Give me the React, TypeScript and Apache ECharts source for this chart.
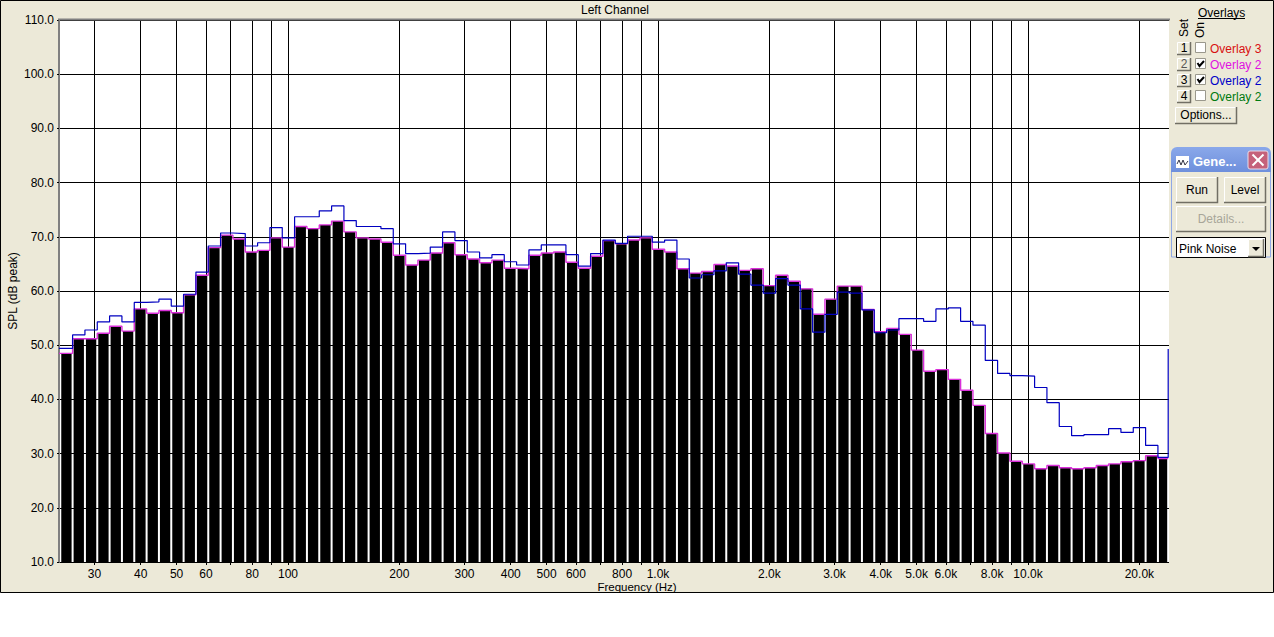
import React, { useEffect, useRef } from "react";
import * as echarts from "echarts";

const FONT = '"Liberation Sans", Arial, sans-serif';
const PANEL = "#ECE9D8";

const minFreq = 24.05;
const maxFreq = 24050;
const firstBandEdge = 24.24;
const lastBandEdge = 23930;
const bandsPerDecade = 30;

const gridTicks = [30, 40, 50, 60, 70, 80, 90, 100, 200, 300, 400, 500, 600, 700, 800, 900, 1000, 2000, 3000, 4000, 5000, 6000, 7000, 8000, 9000, 10000, 20000];
const labelledTicks = [30, 40, 50, 60, 80, 100, 200, 300, 400, 500, 600, 800, 1000, 2000, 3000, 4000, 5000, 6000, 8000, 10000, 20000];

const barValues = [
  48.5, 51.2, 51.2, 52.2, 53.5, 52.6, 56.7, 55.9, 56.4, 56.0,
  59.3, 62.9, 68.0, 70.3, 69.6, 67.2, 67.5, 69.8, 68.1, 71.9,
  71.5, 72.2, 72.9, 70.9, 69.8, 69.6, 69.0, 66.6, 64.8, 65.7,
  67.0, 68.9, 66.7, 65.9, 65.2, 65.7, 64.2, 64.1, 66.6, 67.0,
  67.2, 65.3, 64.2, 66.4, 69.3, 68.7, 69.4, 69.8, 67.7, 67.2,
  64.1, 63.3, 63.6, 64.9, 64.6, 63.8, 64.1, 61.0, 62.9, 61.8,
  60.4, 55.7, 58.5, 60.9, 60.9, 56.6, 52.5, 53.1, 52.0, 49.1,
  45.2, 45.5, 43.7, 41.7, 38.9, 33.7, 30.1, 28.6, 28.1, 27.2,
  27.8, 27.4, 27.2, 27.4, 27.8, 28.1, 28.5, 28.7, 29.6, 29.1,
];

const overlayBlue = [
  49.4, 51.9, 52.8, 54.3, 55.4, 54.3, 57.9, 58.0, 58.5, 57.2,
  59.4, 63.5, 68.3, 70.7, 70.6, 68.3, 68.9, 71.7, 69.8, 73.7,
  73.7, 74.8, 75.7, 73.0, 71.9, 71.9, 71.5, 68.7, 66.9, 67.0,
  68.1, 70.9, 69.3, 67.2, 66.1, 66.7, 65.4, 64.8, 67.6, 68.5,
  68.5, 66.7, 64.6, 66.9, 69.4, 68.8, 70.1, 70.1, 69.0, 69.4,
  65.9, 62.4, 63.0, 63.7, 65.2, 63.1, 61.1, 59.6, 62.3, 61.1,
  56.7, 52.4, 55.7, 59.8, 59.6, 56.5, 52.3, 52.8, 54.9, 54.9,
  54.4, 56.7, 56.9, 54.4, 53.7, 47.2, 44.8, 44.4, 44.3, 42.2,
  39.4, 35.0, 33.3, 33.5, 33.5, 34.6, 33.9, 34.8, 31.5, 29.3,
];
const overlayBlueEndValue = 49.3;

const overlayRows = [
  { set: "1", label: "Overlay 3", color: "#D81010", on: false },
  { set: "2", label: "Overlay 2", color: "#E010E0", on: true },
  { set: "3", label: "Overlay 2", color: "#0000C8", on: true },
  { set: "4", label: "Overlay 2", color: "#007A10", on: false },
];

const bandEdges = Array.from({ length: barValues.length }, (_, i) => firstBandEdge * Math.pow(10, i / bandsPerDecade));
bandEdges.push(lastBandEdge);
const lineEdges = bandEdges.map((f, i) => (i === 0 ? minFreq : f));

const freqLabel = (v: number) => {
  if (v >= 1000) return (v / 1000).toFixed(1) + "k";
  return String(Math.round(v));
};

const label = (text: string, x: number, y: number, extra: any = {}) => ({
  type: "text",
  x,
  y,
  z: 20,
  silent: true,
  style: { text, fontFamily: FONT, fontSize: 12, fill: "#000", textVerticalAlign: "middle", ...extra },
});

const button = (x: number, y: number, w: number, h: number, text: string, textFill = "#000", fontSize = 12) => [
  { type: "rect", z: 18, silent: true, shape: { x, y, width: w, height: h }, style: { fill: PANEL, stroke: null } },
  { type: "polyline", z: 19, silent: true, shape: { points: [[x + 0.5, y + h], [x + 0.5, y + 0.5], [x + w, y + 0.5]] }, style: { stroke: "#FFFFFF", fill: null, lineWidth: 1 } },
  { type: "polyline", z: 19, silent: true, shape: { points: [[x, y + h - 0.5], [x + w - 0.5, y + h - 0.5], [x + w - 0.5, y]] }, style: { stroke: "#716F64", fill: null, lineWidth: 1.5 } },
  label(text, x + w / 2, y + h / 2 - 0.5, { fill: textFill, textAlign: "center", fontSize }),
];

const overlayPanel = () => {
  const out: any[] = [];
  out.push(label("Overlays", 1198, 13));
  out.push({ type: "rect", z: 20, silent: true, shape: { x: 1198, y: 18, width: 47, height: 1 }, style: { fill: "#000" } });
  out.push({ ...label("Set", 1184, 28, { textAlign: "center" }), rotation: Math.PI / 2 });
  out.push({ ...label("On", 1200, 30, { textAlign: "center" }), rotation: Math.PI / 2 });
  overlayRows.forEach((row, i) => {
    const cy = 48 + i * 16;
    out.push(...button(1177, cy - 6, 14, 13, row.set, row.set === "2" ? "#555" : "#000"));
    out.push({ type: "rect", z: 18, silent: true, shape: { x: 1195.5, y: cy - 5.5, width: 10, height: 10 }, style: { fill: "#fff", stroke: "#9A988C", lineWidth: 1 } });
    if (row.on) {
      out.push({ type: "polyline", z: 19, silent: true, shape: { points: [[1197.5, cy - 1], [1199.5, cy + 2], [1204, cy - 3]] }, style: { stroke: "#000", fill: null, lineWidth: 2 } });
    }
    out.push(label(row.label, 1210, cy + 0.5, { fill: row.color }));
  });
  out.push(...button(1175, 107, 62, 17, "Options..."));
  return out;
};

const generatorPanel = () => {
  const out: any[] = [];
  out.push({ type: "rect", z: 16, silent: true, shape: { x: 1171.5, y: 160, width: 99, height: 97 }, style: { fill: PANEL, stroke: "#8FA8E6", lineWidth: 1 } });
  out.push({
    type: "rect", z: 17, silent: true,
    shape: { x: 1171, y: 147, width: 100, height: 25, r: [6, 6, 0, 0] },
    style: { fill: new echarts.graphic.LinearGradient(0, 0, 0, 1, [{ offset: 0, color: "#8AA8EA" }, { offset: 1, color: "#6E8FDC" }]) },
  });
  out.push({ type: "rect", z: 18, silent: true, shape: { x: 1176, y: 156, width: 13, height: 12 }, style: { fill: "#fff" } });
  out.push({ type: "polyline", z: 19, silent: true, shape: { points: [[1177, 164], [1179, 160], [1181, 165], [1183, 160], [1185, 165], [1188, 161]] }, style: { stroke: "#334", fill: null, lineWidth: 1 } });
  out.push(label("Gene...", 1193, 161, { fill: "#fff", fontWeight: "bold", fontSize: 13 }));
  out.push({ type: "rect", z: 18, silent: true, shape: { x: 1248, y: 151, width: 20, height: 18, r: 2 }, style: { fill: "#C5617A", stroke: "#E8DCE8", lineWidth: 1 } });
  out.push({ type: "line", z: 19, silent: true, shape: { x1: 1252.5, y1: 154.5, x2: 1263.5, y2: 165.5 }, style: { stroke: "#fff", lineWidth: 2 } });
  out.push({ type: "line", z: 19, silent: true, shape: { x1: 1263.5, y1: 154.5, x2: 1252.5, y2: 165.5 }, style: { stroke: "#fff", lineWidth: 2 } });
  out.push(...button(1176, 177, 42, 26, "Run"));
  out.push(...button(1224, 177, 42, 26, "Level"));
  out.push(...button(1176, 206, 90, 26, "Details...", "#A8A699"));
  out.push({ type: "rect", z: 18, silent: true, shape: { x: 1176.5, y: 237.5, width: 89, height: 20 }, style: { fill: "#fff", stroke: "#000", lineWidth: 1 } });
  out.push(label("Pink Noise", 1179, 248.5));
  out.push(...button(1248, 239, 16, 18, ""));
  out.push({ type: "polygon", z: 20, silent: true, shape: { points: [[1252, 247], [1260, 247], [1256, 251]] }, style: { fill: "#000" } });
  return out;
};

export default function App() {
  const ref = useRef<HTMLDivElement>(null);
  useEffect(() => {
    document.body.style.margin = "0";
    const chart = echarts.init(ref.current!, undefined, { renderer: "svg" });
    const blueData: any[] = overlayBlue.map((v, i) => [lineEdges[i], v]);
    blueData.push([lineEdges[barValues.length], overlayBlue[overlayBlue.length - 1]]);
    blueData.push([lineEdges[barValues.length], overlayBlueEndValue]);
    const magentaData: any[] = barValues.map((v, i) => [lineEdges[i], v]);
    magentaData.push([lineEdges[barValues.length], barValues[barValues.length - 1]]);

    chart.setOption({
      animation: false,
      backgroundColor: PANEL,
      textStyle: { fontFamily: FONT },
      title: {
        text: "Left Channel",
        left: 615,
        top: 3,
        textAlign: "center",
        textVerticalAlign: "top",
        textStyle: { fontFamily: FONT, fontSize: 12, fontWeight: "normal", color: "#000", lineHeight: 14 },
        padding: 0,
      },
      grid: { left: 59, right: 105, top: 20, bottom: 75, show: true, backgroundColor: "#fff", borderWidth: 0, outerBoundsMode: "none", containLabel: false },
      xAxis: {
        type: "log",
        logBase: 10,
        min: minFreq,
        max: maxFreq,
        name: "Frequency (Hz)",
        nameLocation: "middle",
        nameGap: 19,
        nameMoveOverlap: false,
        nameTextStyle: { fontFamily: FONT, fontSize: 11.5, color: "#000", padding: [0, 0, 0, 46] },
        axisLine: { show: false },
        axisTick: { show: true, length: 3, customValues: gridTicks, lineStyle: { color: "#000" } },
        axisLabel: {
          customValues: labelledTicks,
          fontFamily: FONT,
          fontSize: 12,
          color: "#000",
          margin: 6,
          showMinLabel: true,
          showMaxLabel: true,
          formatter: (v: number) => freqLabel(v),
        },
        splitLine: { show: true, lineStyle: { color: "#000", width: 1 } },
        minorTick: { show: false },
        minorSplitLine: { show: false },
      },
      yAxis: {
        type: "value",
        min: 10,
        max: 110,
        interval: 10,
        name: "SPL (dB peak)",
        nameLocation: "middle",
        nameGap: 40,
        nameMoveOverlap: false,
        nameTextStyle: { fontFamily: FONT, fontSize: 12, color: "#000" },
        axisLine: { show: true, lineStyle: { color: "#808080", width: 2 } },
        axisTick: { show: true, length: 2, lineStyle: { color: "#000" } },
        axisLabel: { fontFamily: FONT, fontSize: 12, color: "#000", margin: 5, formatter: (v: number) => v.toFixed(1) },
        splitLine: { show: true, lineStyle: { color: "#000", width: 1 } },
      },
      series: [
        {
          type: "custom",
          name: "Measured",
          silent: true,
          clip: true,
          z: 3,
          encode: { x: [0, 1], y: 2 },
          data: barValues.map((v, i) => [bandEdges[i], bandEdges[i + 1], v]),
          renderItem: (_p: any, api: any) => {
            const topLeft = api.coord([api.value(0), api.value(2)]);
            const bottomRight = api.coord([api.value(1), 10]);
            return {
              type: "rect",
              shape: { x: topLeft[0] + 1, y: topLeft[1], width: Math.max(0, bottomRight[0] - topLeft[0] - 2), height: bottomRight[1] - topLeft[1] },
              style: { fill: "#000" },
            };
          },
        },
        {
          type: "line",
          name: "Overlay 2 (magenta)",
          step: "end",
          showSymbol: false,
          silent: true,
          z: 4,
          lineStyle: { color: "#D92FD9", width: 1.4 },
          data: magentaData,
        },
        {
          type: "line",
          name: "Overlay 2 (blue)",
          step: "end",
          showSymbol: false,
          silent: true,
          z: 5,
          lineStyle: { color: "#0000C0", width: 1.2 },
          data: blueData,
        },
      ],
      graphic: [
        { type: "rect", z: 1, silent: true, shape: { x: 0, y: 593, width: 1274, height: 44 }, style: { fill: "#fff" } },
        { type: "rect", z: 1, silent: true, shape: { x: 0.5, y: 0.5, width: 1273, height: 592 }, style: { fill: null, stroke: "#000", lineWidth: 1 } },
        { type: "rect", z: 1, silent: true, shape: { x: 58, y: 18.5, width: 1112, height: 2 }, style: { fill: "#808080" } },
        ...overlayPanel(),
        ...generatorPanel(),
      ],
    });
    return () => chart.dispose();
  }, []);
  return <div ref={ref} style={{ width: 1274, height: 637 }} />;
}
